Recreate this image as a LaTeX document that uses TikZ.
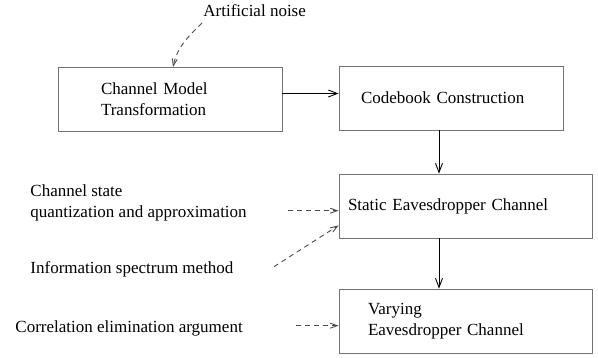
\documentclass[tikz,border=0pt]{standalone}
\usepackage{fontspec}
\setmainfont{Liberation Serif}
\usetikzlibrary{positioning,calc,arrows.meta}
\newcommand{\tf}{\fontsize{17pt}{21pt}\selectfont}
\newcommand{\dd}{4.5pt}

\begin{document}
\begin{tikzpicture}[x=1pt,y=1pt,font=\tf,line width=0.9pt,
  >={Straight Barb[length=9pt,width=7pt]},
  box/.style={draw=black!55,align=left,minimum height=64pt,inner ysep=0pt},
  note/.style={anchor=base west,align=left,inner sep=0pt},
  hint/.style={->,draw=black!70,dash pattern=on 5pt off 4pt,
    >={Straight Barb[length=7pt,width=5pt]}}]
\useasboundingbox (0,0) rectangle (598,358);
\node[box,minimum width=224pt,text width=138pt,inner xsep=43pt] (cmt) at (170,258.5) {Channel Model\\Transformation};
\node[box,minimum width=224pt,text width=180pt,inner xsep=22pt] (cbc) at (451,260)   {Codebook Construction};
\node[box,minimum width=253pt,text width=235pt,inner xsep=9pt]  (sec) at (465.5,152) {Static Eavesdropper Channel};
\node[box,minimum width=253pt,text width=195pt,inner xsep=29pt] (vec) at (465.5,37)  {Varying\\Eavesdropper Channel};
%
\node[note] (noise) at (203,341)   {Artificial noise};
\node[note] (csq)   at (30,140.3)  {Channel state\\quantization and approximation};
\node[note] (ism)   at (30,84.5)   {Information spectrum method};
\node[note] (cea)   at (15,25)     {Correlation elimination argument};
%
\coordinate (noise-out) at (202,335);
\coordinate (csq-out)   at (288,147.3);
\coordinate (ism-out)   at (274,91.3);
\coordinate (cea-out)   at (296,32.3);
%
\draw[->] ([yshift=\dd]cbc.west -| cmt.east) -- ([yshift=\dd]cbc.west);
\draw[->] ([xshift=-12pt]cbc.south) -- ([xshift=-26.5pt]sec.north);
\draw[->] ([xshift=-26.5pt]sec.south) -- ([xshift=-26.5pt]vec.north);
%
\draw[hint] (noise-out) to[out=225,in=78] ([xshift=3pt]cmt.north);
\draw[hint] (csq-out) -- ([yshift=-4.7pt]sec.west);
\draw[hint] (ism-out) -- ([yshift=13pt]sec.south west);
\draw[hint] (cea-out) -- ([yshift=-4.7pt]vec.west);
\end{tikzpicture}
\end{document}
